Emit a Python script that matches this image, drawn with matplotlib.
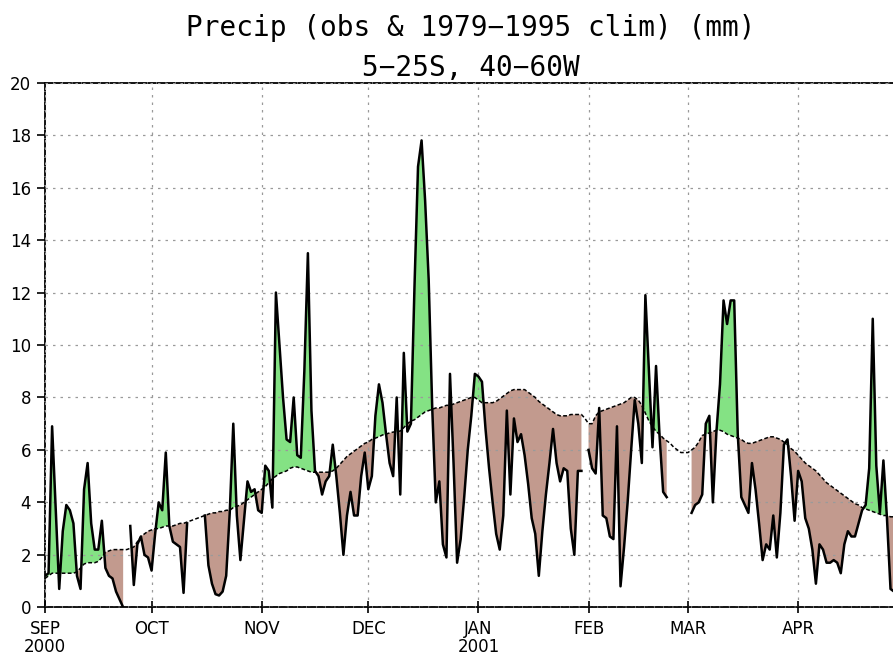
import numpy as np
import matplotlib
matplotlib.use("Agg")
import matplotlib.pyplot as plt

nan = np.nan

# daily obs precip from 1 Sep 2000 (mm), nan = missing
obs = [1.2, 1.3, 6.9, 3.8, 0.7, 2.9, 3.9, 3.7, 3.2, 1.2,
       0.7, 4.5, 5.5, 3.2, 2.2, 2.2, 3.3, 1.5, 1.2, 1.1,
       0.6, 0.3, 0.0, nan, 3.1, 0.85, 2.4, 2.7, 2.0, 1.9,
       1.4, 2.8, 4.0, 3.7, 5.9, 3.1, 2.5, 2.4, 2.3, 0.55,
       3.2, nan, nan, nan, nan, 3.5, 1.6, 0.9, 0.5, 0.45,
       0.6, 1.2, 3.6, 7.0, 3.5, 1.8, 3.3, 4.8, 4.4, 4.5,
       3.7, 3.6, 5.4, 5.2, 3.8, 12.0, 10.0, 8.0, 6.4, 6.3,
       8.0, 5.8, 5.7, 9.0, 13.5, 7.5, 5.2, 5.0, 4.3, 4.8,
       5.0, 6.2, 5.0, 3.6, 2.0, 3.5, 4.4, 3.5, 3.5, 5.0,
       5.9, 4.5, 5.0, 7.3, 8.5, 7.8, 6.6, 5.5, 5.0, 8.0,
       4.3, 9.7, 6.7, 7.0, 12.2, 16.8, 17.8, 15.5, 12.5, 7.6,
       4.0, 4.8, 2.4, 1.9, 8.9, 5.5, 1.7, 2.6, 4.2, 6.0,
       7.3, 8.9, 8.8, 8.6, 6.8, 5.3, 4.0, 2.8, 2.2, 3.5,
       7.5, 4.3, 7.2, 6.3, 6.6, 5.8, 4.7, 3.4, 2.8, 1.2,
       2.9, 4.3, 5.5, 6.8, 5.5, 4.8, 5.3, 5.2, 3.0, 2.0,
       5.2, 5.2, nan, 6.0, 5.3, 5.1, 7.6, 3.5, 3.4, 2.7,
       2.6, 6.9, 0.8, 2.3, 4.0, 6.0, 7.9, 7.0, 5.5, 11.9,
       9.0, 6.1, 9.2, 6.5, 4.4, 4.2, nan, nan, nan, nan,
       nan, nan, 3.6, 3.9, 4.0, 4.3, 7.0, 7.3, 4.0, 6.7,
       8.5, 11.7, 10.8, 11.7, 11.7, 6.6, 4.2, 3.9, 3.6, 5.5,
       4.5, 3.2, 1.8, 2.4, 2.2, 3.5, 1.9, 3.6, 6.2, 6.4,
       5.0, 3.3, 5.2, 4.8, 3.4, 3.0, 2.2, 0.9, 2.4, 2.2,
       1.7, 1.7, 1.8, 1.7, 1.3, 2.4, 2.9, 2.7, 2.7, 3.2,
       3.7, 3.9, 5.3, 11.0, 5.4, 3.6, 5.6, 3.4, 0.7, 0.6]

# 1979-1995 daily climatology (mm)
clim = [1.1, 1.2, 1.3, 1.3, 1.3, 1.3, 1.3, 1.3, 1.3, 1.35,
        1.5, 1.65, 1.7, 1.7, 1.7, 1.75, 1.9, 2.1, 2.15, 2.2,
        2.2, 2.2, 2.2, 2.2, 2.25, 2.3, 2.5, 2.7, 2.8, 2.9,
        2.95, 3.0, 3.0, 3.05, 3.1, 3.1, 3.1, 3.15, 3.2, 3.2,
        3.25, 3.3, 3.35, 3.4, 3.45, 3.5, 3.55, 3.6, 3.6, 3.65,
        3.65, 3.7, 3.7, 3.8, 3.85, 3.9, 4.0, 4.1, 4.2, 4.3,
        4.4, 4.5, 4.6, 4.75, 4.9, 5.0, 5.1, 5.15, 5.2, 5.3,
        5.35, 5.35, 5.3, 5.25, 5.2, 5.15, 5.15, 5.15, 5.15, 5.15,
        5.15, 5.2, 5.3, 5.45, 5.6, 5.75, 5.85, 5.95, 6.05, 6.15,
        6.25, 6.3, 6.4, 6.45, 6.5, 6.57, 6.6, 6.65, 6.68, 6.7,
        6.72, 6.85, 7.0, 7.1, 7.15, 7.25, 7.35, 7.45, 7.5, 7.55,
        7.6, 7.6, 7.65, 7.7, 7.7, 7.75, 7.8, 7.85, 7.9, 7.95,
        8.0, 8.0, 7.9, 7.8, 7.8, 7.8, 7.8, 7.85, 7.95, 8.05,
        8.15, 8.25, 8.3, 8.3, 8.3, 8.3, 8.2, 8.1, 8.0, 7.85,
        7.75, 7.65, 7.55, 7.45, 7.35, 7.3, 7.3, 7.3, 7.35, 7.35,
        7.35, 7.35, 7.2, 7.0, 7.0, 7.3, 7.45, 7.5, 7.55, 7.6,
        7.65, 7.7, 7.75, 7.8, 7.9, 8.0, 8.0, 7.9, 7.7, 7.4,
        7.1, 6.9, 6.7, 6.6, 6.45, 6.35, 6.25, 6.1, 6.0, 5.9,
        5.9, 5.9, 6.0, 6.1, 6.3, 6.55, 6.6, 6.65, 6.7, 6.75,
        6.75, 6.7, 6.6, 6.55, 6.5, 6.45, 6.4, 6.3, 6.25, 6.25,
        6.3, 6.35, 6.4, 6.45, 6.5, 6.5, 6.45, 6.4, 6.3, 6.2,
        6.05, 5.95, 5.8, 5.65, 5.5, 5.4, 5.3, 5.2, 5.05, 4.9,
        4.75, 4.65, 4.55, 4.45, 4.35, 4.25, 4.15, 4.05, 3.95, 3.9,
        3.8, 3.75, 3.7, 3.65, 3.6, 3.55, 3.5, 3.5, 3.45, 3.45]

month_days = [0, 30, 61, 91, 122, 153, 181, 212]
month_labels = ['SEP\n2000', 'OCT', 'NOV', 'DEC', 'JAN\n2001', 'FEB', 'MAR', 'APR']
yticks = [0, 2, 4, 6, 8, 10, 12, 14, 16, 18, 20]

obs = np.array(obs, dtype=float)
clim = np.array(clim, dtype=float)
days = np.arange(len(obs))

fig = plt.figure(figsize=(8.93, 6.58), dpi=100)
ax = fig.add_axes([45/893, 50.7/658, 848/893, 524.6/658])

ax.fill_between(days, obs, clim, where=obs >= clim, interpolate=True,
                color='#84e284', lw=0, zorder=1)
ax.fill_between(days, obs, clim, where=obs <= clim, interpolate=True,
                color='#c29a8e', lw=0, zorder=1)
ax.plot(days, clim, color='k', lw=1.1, ls=(0, (2.5, 1.5)), zorder=3)
ax.plot(days, obs, color='k', lw=1.8, zorder=4)

ax.set_xlim(0, 238.7)
ax.set_ylim(0, 20)
ax.set_xticks(month_days)
ax.set_xticklabels(month_labels, fontsize=12, linespacing=1.05)
ax.set_yticks(yticks)
ax.set_yticklabels([str(t) for t in yticks], fontsize=12)
ax.tick_params(axis='x', direction='inout', length=8, width=1.2, pad=5)
ax.tick_params(axis='y', direction='out', length=6, width=1.2, pad=4)

ax.grid(True, color='#9a9a9a', lw=0.9, ls=(0, (2, 4)), zorder=2)
ax.set_axisbelow(False)

for side in ['left', 'bottom', 'top']:
    ax.spines[side].set_linestyle((0, (4, 1.2)))
    ax.spines[side].set_linewidth(1.3)
ax.spines['right'].set_visible(False)

fig.text(471/893, 1 - 36/658, 'Precip (obs & 1979\u22121995 clim) (mm)',
         ha='center', va='baseline', fontsize=20, family='DejaVu Sans Mono')
fig.text(471/893, 1 - 76/658, '5\u221225S, 40\u221260W',
         ha='center', va='baseline', fontsize=20, family='DejaVu Sans Mono')

fig.savefig('out.png', dpi=100)
